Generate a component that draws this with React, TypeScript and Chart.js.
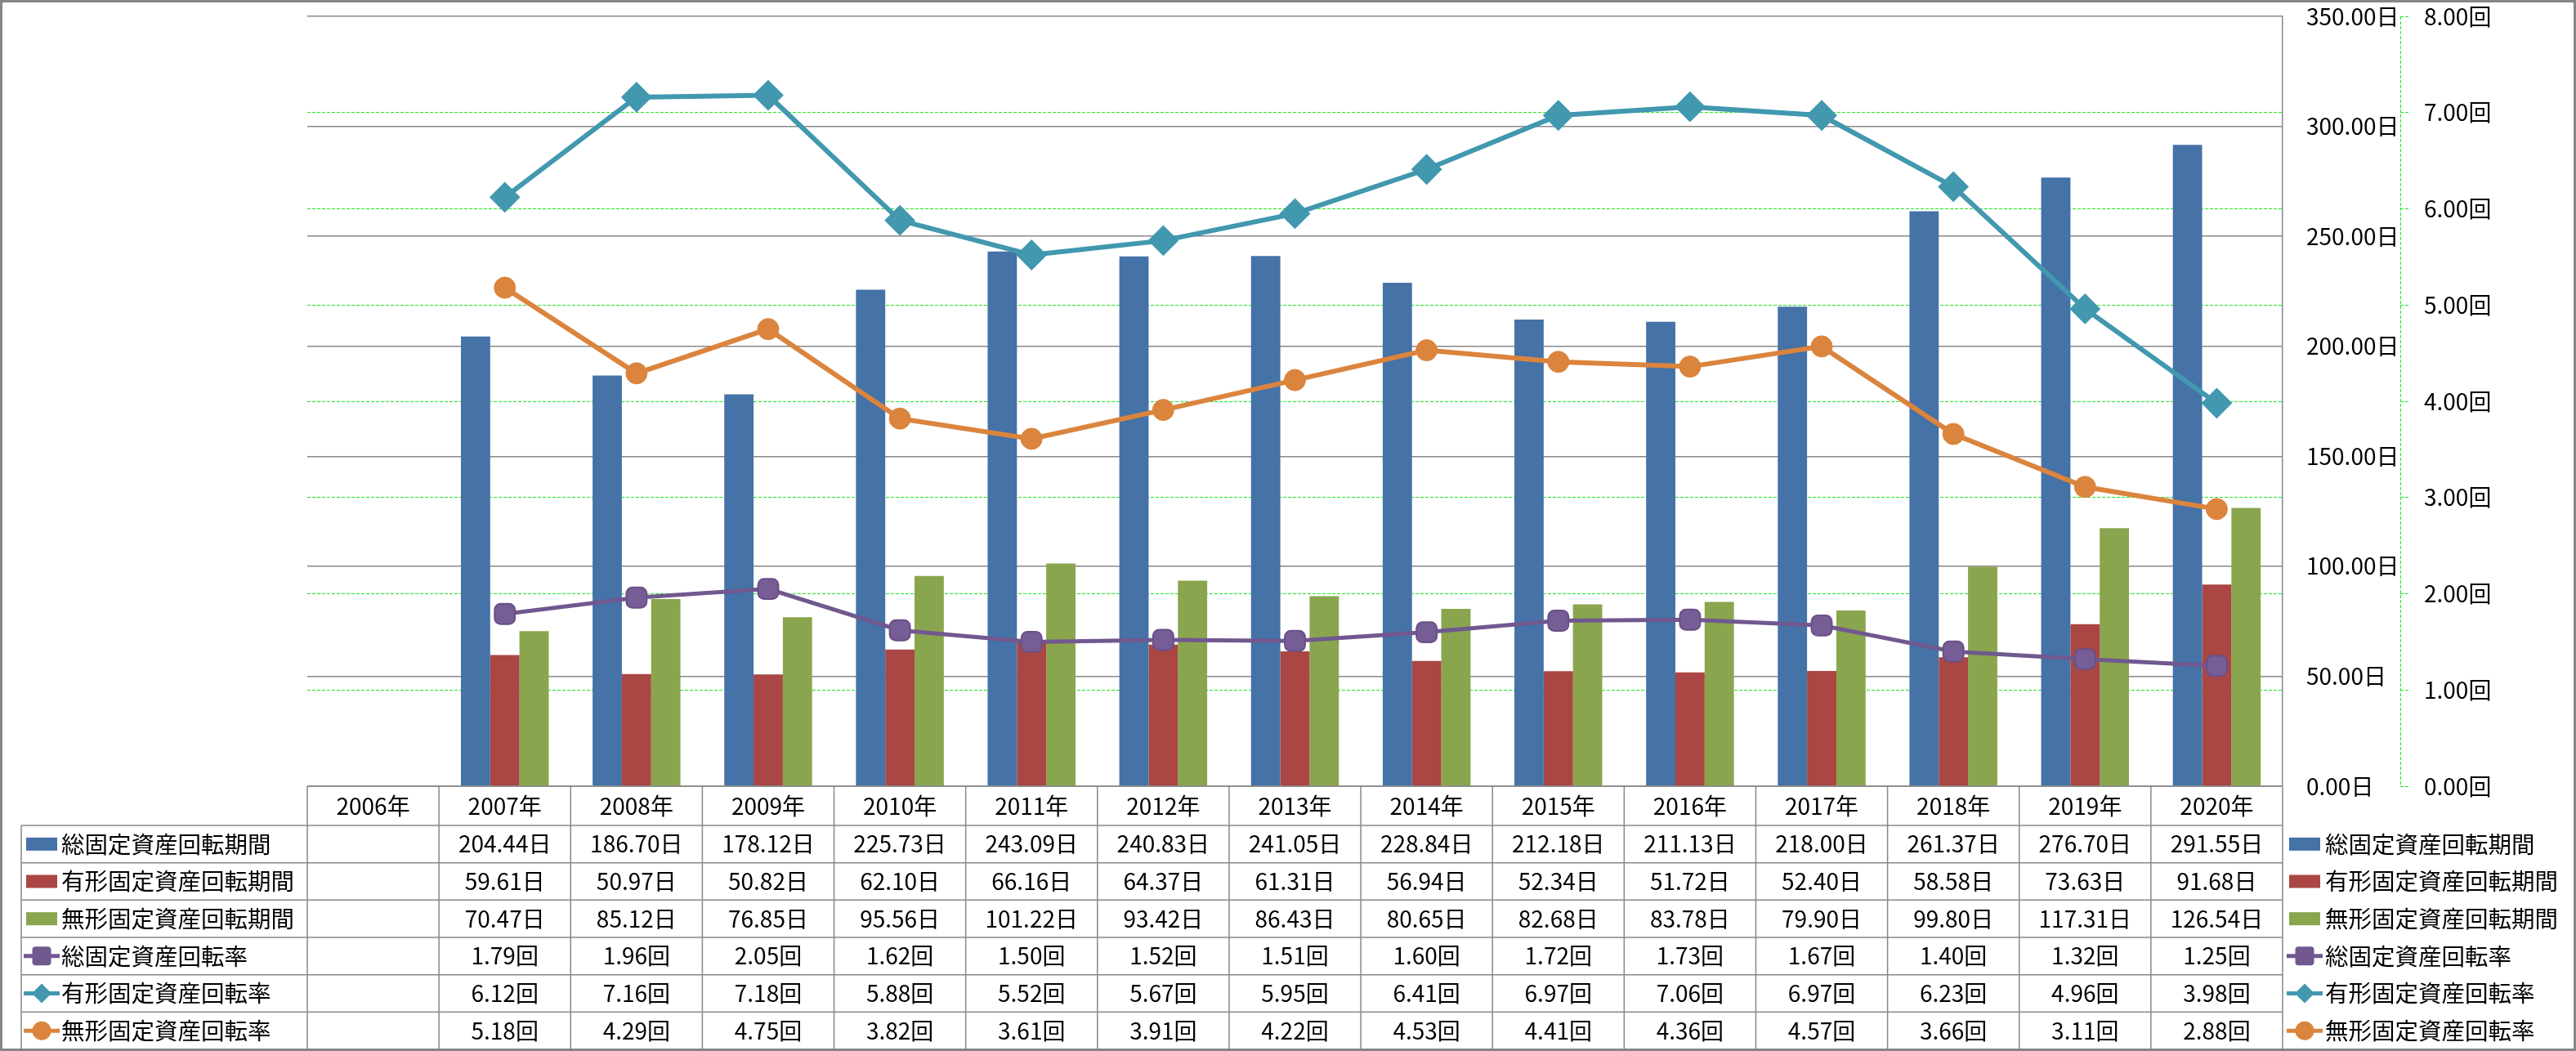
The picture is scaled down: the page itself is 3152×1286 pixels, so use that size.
import React, { useEffect, useRef } from 'react';
import { Chart, registerables } from 'chart.js';

Chart.register(...registerables);

const categories = ['2006年', '2007年', '2008年', '2009年', '2010年', '2011年', '2012年', '2013年', '2014年', '2015年', '2016年', '2017年', '2018年', '2019年', '2020年'];

const seriesNames = ['総固定資産回転期間', '有形固定資産回転期間', '無形固定資産回転期間', '総固定資産回転率', '有形固定資産回転率', '無形固定資産回転率'];

const totalPeriod = [null, 204.44, 186.70, 178.12, 225.73, 243.09, 240.83, 241.05, 228.84, 212.18, 211.13, 218.00, 261.37, 276.70, 291.55];
const tangiblePeriod = [null, 59.61, 50.97, 50.82, 62.10, 66.16, 64.37, 61.31, 56.94, 52.34, 51.72, 52.40, 58.58, 73.63, 91.68];
const intangiblePeriod = [null, 70.47, 85.12, 76.85, 95.56, 101.22, 93.42, 86.43, 80.65, 82.68, 83.78, 79.90, 99.80, 117.31, 126.54];
const totalRate = [null, 1.79, 1.96, 2.05, 1.62, 1.50, 1.52, 1.51, 1.60, 1.72, 1.73, 1.67, 1.40, 1.32, 1.25];
const tangibleRate = [null, 6.12, 7.16, 7.18, 5.88, 5.52, 5.67, 5.95, 6.41, 6.97, 7.06, 6.97, 6.23, 4.96, 3.98];
const intangibleRate = [null, 5.18, 4.29, 4.75, 3.82, 3.61, 3.91, 4.22, 4.53, 4.41, 4.36, 4.57, 3.66, 3.11, 2.88];

const dayUnit = '日';
const rateUnit = '回';
const dayAxisMax = 350;
const dayAxisStep = 50;
const rateAxisMax = 8;
const rateAxisStep = 1;

const W = 3152;
const H = 1286;
const FONT = '"Noto Sans CJK JP", "Noto Sans", sans-serif';
const FONT_SIZE = 28;
const LABEL_FONT_SIZE = 28.5;
const BLUE = '#4572A7';
const RED = '#AA4643';
const GREEN = '#89A54E';
const PURPLE = '#71588F';
const TEAL = '#4198AF';
const ORANGE = '#DB843D';
const GRID_GREY = '#888888';
const GRID_GREEN = '#1ee81e';

const seriesValues = [totalPeriod, tangiblePeriod, intangiblePeriod, totalRate, tangibleRate, intangibleRate];
const seriesUnits = [dayUnit, dayUnit, dayUnit, rateUnit, rateUnit, rateUnit];
const seriesColors = [BLUE, RED, GREEN, PURPLE, TEAL, ORANGE];
const seriesKinds = ['bar', 'bar', 'bar', 'square', 'diamond', 'circle'];

function drawMarker(ctx: CanvasRenderingContext2D, kind: string, cx: number, cy: number, color: string) {
  ctx.save();
  ctx.fillStyle = color;
  ctx.beginPath();
  if (kind === 'square') {
    const s = 11.5, r = 4;
    ctx.moveTo(cx - s + r, cy - s);
    ctx.arcTo(cx + s, cy - s, cx + s, cy + s, r);
    ctx.arcTo(cx + s, cy + s, cx - s, cy + s, r);
    ctx.arcTo(cx - s, cy + s, cx - s, cy - s, r);
    ctx.arcTo(cx - s, cy - s, cx + s, cy - s, r);
    ctx.closePath();
  } else if (kind === 'diamond') {
    const s = 12;
    ctx.moveTo(cx, cy - s);
    ctx.lineTo(cx + s, cy);
    ctx.lineTo(cx, cy + s);
    ctx.lineTo(cx - s, cy);
    ctx.closePath();
  } else {
    ctx.arc(cx, cy, 11.5, 0, Math.PI * 2);
  }
  ctx.fill();
  ctx.restore();
}

function drawSymbol(ctx: CanvasRenderingContext2D, idx: number, x0: number, yc: number) {
  const kind = seriesKinds[idx];
  const color = seriesColors[idx];
  if (kind === 'bar') {
    ctx.fillStyle = color;
    ctx.fillRect(x0 + 3, yc - 8, 38, 16);
  } else {
    ctx.save();
    ctx.strokeStyle = color;
    ctx.lineWidth = 5;
    ctx.beginPath();
    ctx.moveTo(x0, yc);
    ctx.lineTo(x0 + 44, yc);
    ctx.stroke();
    ctx.restore();
    drawMarker(ctx, kind, x0 + 22, yc, color);
  }
}

const tablePlugin = {
  id: 'dataTablePlugin',
  beforeDraw(chart: any) {
    const ctx = chart.ctx;
    ctx.save();
    ctx.fillStyle = '#ffffff';
    ctx.fillRect(0, 0, chart.width, chart.height);
    ctx.restore();
  },
  afterDraw(chart: any) {
    const ctx: CanvasRenderingContext2D = chart.ctx;
    const area = chart.chartArea;
    const n = categories.length;
    const cw = (area.right - area.left) / n;
    const top = area.bottom;
    const headerH = 48;
    const bottom = 1284;
    const rowH = (bottom - top - headerH) / seriesNames.length;
    const rowY = (i: number) => top + headerH + i * rowH;
    const labelLeft = 26;

    ctx.save();
    // dashed rate axis line
    const rs = chart.scales.yRate;
    ctx.strokeStyle = GRID_GREEN;
    ctx.lineWidth = 1;
    ctx.setLineDash([4, 2]);
    ctx.beginPath();
    ctx.moveTo(Math.round(rs.left) + 0.5, area.top);
    ctx.lineTo(Math.round(rs.left) + 0.5, area.bottom);
    ctx.stroke();
    ctx.setLineDash([]);

    // table grid
    ctx.strokeStyle = GRID_GREY;
    ctx.lineWidth = 1.5;
    ctx.beginPath();
    ctx.moveTo(area.left, top);
    ctx.lineTo(area.right, top);
    for (let i = 0; i <= seriesNames.length; i++) {
      const y = rowY(i);
      ctx.moveTo(labelLeft, y);
      ctx.lineTo(area.right, y);
    }
    for (let i = 0; i <= n; i++) {
      const x = area.left + i * cw;
      ctx.moveTo(x, top);
      ctx.lineTo(x, bottom);
    }
    ctx.moveTo(labelLeft, rowY(0));
    ctx.lineTo(labelLeft, bottom);
    ctx.stroke();

    // header text
    ctx.fillStyle = '#000000';
    ctx.font = `${FONT_SIZE}px ${FONT}`;
    ctx.textBaseline = 'middle';
    ctx.textAlign = 'center';
    for (let i = 0; i < n; i++) {
      ctx.fillText(categories[i], area.left + (i + 0.5) * cw, top + headerH / 2);
    }
    // rows
    for (let r = 0; r < seriesNames.length; r++) {
      const yc = rowY(r) + rowH / 2;
      ctx.font = `${FONT_SIZE}px ${FONT}`;
      ctx.textAlign = 'center';
      ctx.fillStyle = '#000000';
      const vals = seriesValues[r];
      for (let i = 0; i < n; i++) {
        const v = vals[i];
        if (v === null || v === undefined) continue;
        ctx.fillText(v.toFixed(2) + seriesUnits[r], area.left + (i + 0.5) * cw, yc);
      }
      ctx.font = `${LABEL_FONT_SIZE}px ${FONT}`;
      // label column
      drawSymbol(ctx, r, 29, yc);
      ctx.fillStyle = '#000000';
      ctx.textAlign = 'left';
      ctx.fillText(seriesNames[r], 75, yc);
      // right legend
      drawSymbol(ctx, r, area.right + 5, yc);
      ctx.fillStyle = '#000000';
      ctx.textAlign = 'left';
      ctx.fillText(seriesNames[r], area.right + 52, yc);
    }

    // outer border
    ctx.strokeStyle = '#868686';
    ctx.lineWidth = 3;
    ctx.strokeRect(1.5, 1.5, chart.width - 3, chart.height - 3);
    ctx.restore();
  },
};

export default function App() {
  const ref = useRef<HTMLCanvasElement | null>(null);

  useEffect(() => {
    const canvas = ref.current;
    if (!canvas) return;
    const font = { family: FONT, size: FONT_SIZE };
    const chart = new Chart(canvas, {
      type: 'bar',
      data: {
        labels: categories,
        datasets: [
          { type: 'line', label: seriesNames[3], data: totalRate, yAxisID: 'yRate', order: 0, borderColor: PURPLE, borderWidth: 5, backgroundColor: '#755C94', pointStyle: 'rectRounded', pointRadius: 14.5, pointBorderWidth: 2, pointBorderColor: '#6A4F88', pointBackgroundColor: '#765D95', tension: 0, fill: false },
          { type: 'line', label: seriesNames[4], data: tangibleRate, yAxisID: 'yRate', order: 0, borderColor: TEAL, borderWidth: 6, backgroundColor: TEAL, pointStyle: 'rectRot', pointRadius: 17.5, pointBorderWidth: 2, pointBorderColor: TEAL, pointBackgroundColor: TEAL, tension: 0, fill: false },
          { type: 'line', label: seriesNames[5], data: intangibleRate, yAxisID: 'yRate', order: 0, borderColor: ORANGE, borderWidth: 6, backgroundColor: ORANGE, pointStyle: 'circle', pointRadius: 13, pointBorderWidth: 1, pointBorderColor: ORANGE, pointBackgroundColor: ORANGE, tension: 0, fill: false },
          { type: 'bar', label: seriesNames[0], data: totalPeriod, yAxisID: 'yDays', order: 1, backgroundColor: BLUE, borderWidth: 0, categoryPercentage: 0.667, barPercentage: 1.0 },
          { type: 'bar', label: seriesNames[1], data: tangiblePeriod, yAxisID: 'yDays', order: 1, backgroundColor: RED, borderWidth: 0, categoryPercentage: 0.667, barPercentage: 1.0 },
          { type: 'bar', label: seriesNames[2], data: intangiblePeriod, yAxisID: 'yDays', order: 1, backgroundColor: GREEN, borderWidth: 0, categoryPercentage: 0.667, barPercentage: 1.0 },
        ] as any,
      },
      options: {
        responsive: false,
        animation: false,
        devicePixelRatio: 1,
        events: [],
        layout: { padding: { left: 376, top: 20, right: 0, bottom: H - 962 } },
        plugins: {
          legend: { display: false },
          tooltip: { enabled: false },
          title: { display: false },
        },
        scales: {
          x: {
            type: 'category',
            display: false,
            offset: true,
            grid: { display: false },
          },
          yDays: {
            type: 'linear',
            position: 'right',
            weight: 1,
            min: 0,
            max: dayAxisMax,
            ticks: {
              stepSize: dayAxisStep,
              padding: 29,
              color: '#000000',
              font,
              callback: (v: any) => Number(v).toFixed(2) + dayUnit,
            },
            grid: { color: GRID_GREY, lineWidth: 1.5, drawTicks: false, drawOnChartArea: true },
            border: { display: true, color: GRID_GREY, width: 1.5 },
            afterFit: (scale: any) => { scale.width = 144; scale.paddingTop = 0; scale.paddingBottom = 0; },
          },
          yRate: {
            type: 'linear',
            position: 'right',
            weight: 2,
            min: 0,
            max: rateAxisMax,
            ticks: {
              stepSize: rateAxisStep,
              padding: 19,
              color: '#000000',
              font,
              callback: (v: any) => Number(v).toFixed(2) + rateUnit,
            },
            grid: {
              color: (c: any) => (c.tick && (c.tick.value === 0 || c.tick.value === rateAxisMax) ? 'rgba(0,0,0,0)' : GRID_GREEN),
              tickColor: GRID_GREEN,
              lineWidth: 1,
              tickWidth: 1,
              drawTicks: true,
              tickLength: 10,
              tickBorderDash: [4, 2],
            },
            border: { display: false, dash: [4, 2] },
            afterFit: (scale: any) => { scale.width = 215; scale.paddingTop = 0; scale.paddingBottom = 0; },
          },
        } as any,
      },
      plugins: [tablePlugin],
    });
    return () => chart.destroy();
  }, []);

  return (
    <canvas
      ref={ref}
      width={W}
      height={H}
      style={{ position: 'absolute', left: 0, top: 0, width: W, height: H, display: 'block' }}
    />
  );
}
